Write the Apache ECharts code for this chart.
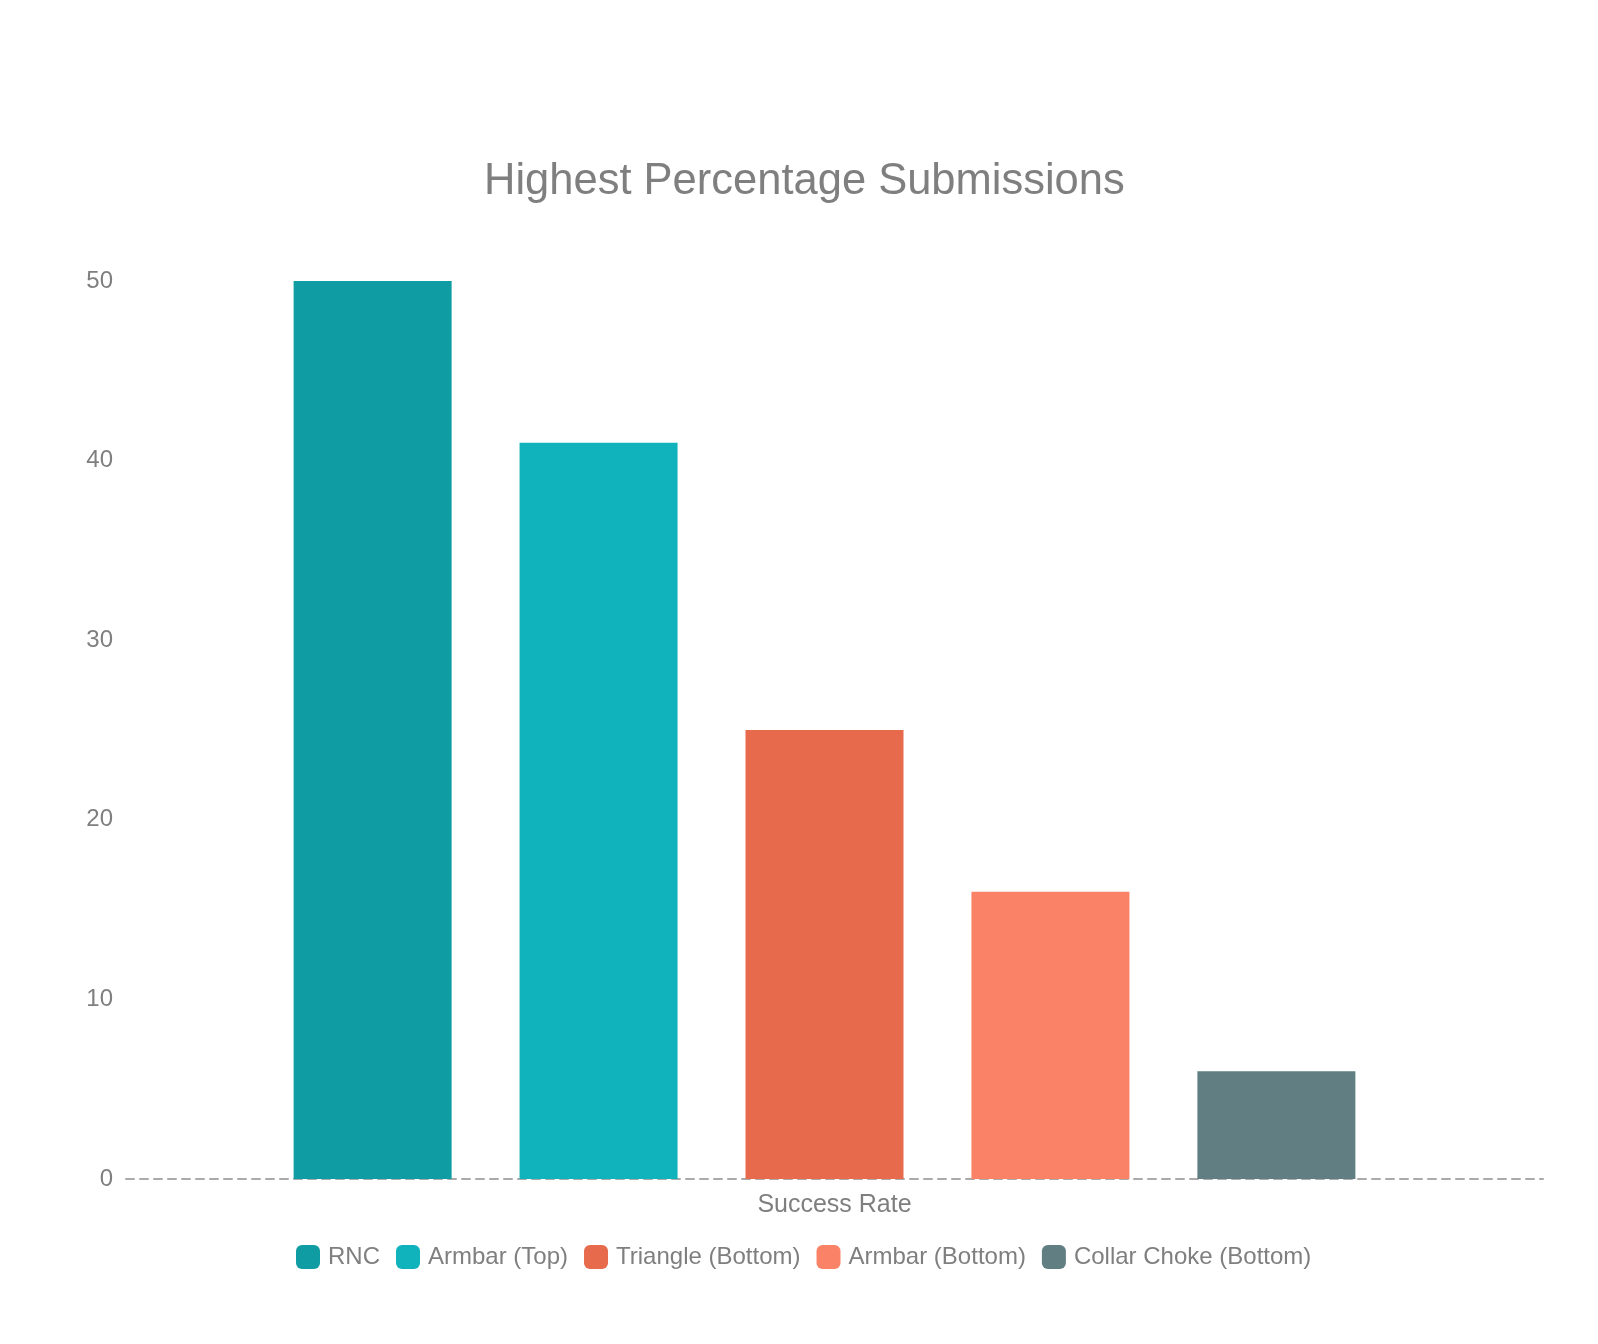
<!DOCTYPE html>
<html>
<head>
<meta charset="utf-8">
<script src="https://cdn.jsdelivr.net/npm/echarts@6/dist/echarts.min.js"></script>
<style>
html,body{margin:0;padding:0;background:#fff;}
#chart{width:1598px;height:1344px;}
</style>
</head>
<body>
<div id="chart"></div>
<script>
const titleText = 'Highest Percentage Submissions';
const categories = ['Success Rate'];
const seriesNames = ['RNC', 'Armbar (Top)', 'Triangle (Bottom)', 'Armbar (Bottom)', 'Collar Choke (Bottom)'];
const seriesValues = [50, 41, 25, 16, 6];
const seriesColors = ['#0f9ca3', '#10b3bc', '#e76a4c', '#fa8266', '#617f82'];
const yTicks = { min: 0, max: 50, interval: 10 };

const textGray = '#7f7f7f';
const fontFam = 'Liberation Sans, Arial, sans-serif';
const chart = echarts.init(document.getElementById('chart'), null, { renderer: 'canvas' });

const series = seriesNames.map((name, i) => ({
  name: name,
  type: 'bar',
  xAxisIndex: 0,
  yAxisIndex: 0,
  data: [seriesValues[i]],
  barWidth: 158,
  barGap: '43%',
  itemStyle: { color: seriesColors[i] },
  emphasis: { disabled: true }
}));

chart.setOption({
  animation: false,
  backgroundColor: '#ffffff',
  title: {
    text: titleText,
    left: 479,
    top: 155,
    textStyle: { fontFamily: fontFam, fontSize: 43.5, fontWeight: 'normal', color: textGray }
  },
  legend: {
    data: seriesNames,
    left: 291,
    top: 1240,
    icon: 'roundRect',
    itemWidth: 24,
    itemHeight: 24,
    itemGap: 16,
    textStyle: { fontFamily: fontFam, fontSize: 24, color: textGray, padding: [0, 0, 0, 3] }
  },
  grid: [
    { left: 126, right: 75, top: 281, bottom: 165, containLabel: false },
    { left: 126, right: 55, top: 281, bottom: 165, containLabel: false }
  ],
  xAxis: [
    {
      type: 'category', gridIndex: 0, data: categories,
      axisLine: { show: false }, axisTick: { show: false }, axisLabel: { show: false }
    },
    {
      type: 'category', gridIndex: 1, data: categories,
      axisLine: { show: true, lineStyle: { color: '#aaaaaa', width: 2, type: [8, 6] } },
      axisTick: { show: false },
      axisLabel: { show: true, margin: 14, fontFamily: fontFam, fontSize: 25, color: textGray }
    }
  ],
  yAxis: [
    {
      type: 'value', gridIndex: 0, min: yTicks.min, max: yTicks.max, interval: yTicks.interval,
      axisLine: { show: false }, axisTick: { show: false }, splitLine: { show: false },
      axisLabel: { margin: 13, fontFamily: fontFam, fontSize: 24, color: textGray }
    },
    {
      type: 'value', gridIndex: 1, min: yTicks.min, max: yTicks.max, interval: yTicks.interval, show: false,
      splitLine: { show: false }
    }
  ],
  series: series
});
</script>
</body>
</html>
